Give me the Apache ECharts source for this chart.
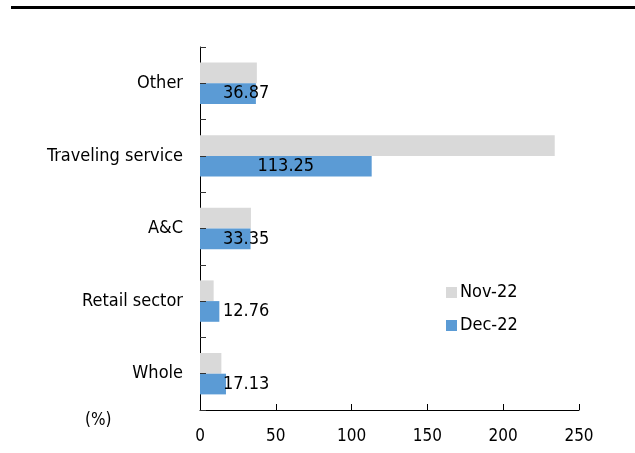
<!DOCTYPE html>
<html>
<head>
<meta charset="utf-8">
<script src="https://cdn.jsdelivr.net/npm/echarts@6/dist/echarts.min.js"></script>
<style>
  html, body { margin: 0; padding: 0; background: #fff; }
  #chart { width: 635px; height: 453px; }
</style>
</head>
<body>
<div id="chart"></div>
<script>
// Categories listed bottom-to-top (ECharts category y axis starts at the bottom)
const categories = ['Whole', 'Retail sector', 'A&C', 'Traveling service', 'Other'];
const nov22 = [14.1, 9.0, 33.6, 234.0, 37.5];
const dec22 = [17.13, 12.76, 33.35, 113.25, 36.87];
const xTicks = [0, 50, 100, 150, 200, 250];
const seriesNames = ['Nov-22', 'Dec-22'];

const FONT = '"DejaVu Sans Condensed", "DejaVu Sans", sans-serif';
const INK = '#000';

const chart = echarts.init(document.getElementById('chart'));

const decData = dec22.map(v => ({
  value: v,
  label: v > 60
    ? { position: 'inside' }
    : { position: [23, '50%'], align: 'left', verticalAlign: 'middle' }
}));

chart.setOption({
  animation: false,
  textStyle: { fontFamily: FONT },
  grid: { left: 200, right: 56, top: 47, bottom: 43, containLabel: false },
  legend: {
    orient: 'vertical',
    left: 441,
    top: 277,
    itemWidth: 11,
    itemHeight: 11,
    itemGap: 12,
    icon: 'rect',
    data: seriesNames,
    textStyle: { fontFamily: FONT, fontSize: 18, color: INK, lineHeight: 21, padding: [0, 0, 0, -2] }
  },
  xAxis: {
    type: 'value',
    min: xTicks[0],
    max: xTicks[xTicks.length - 1],
    interval: 50,
    axisLine: { show: true, lineStyle: { color: INK, width: 1 } },
    axisTick: { show: true, inside: true, length: 6, lineStyle: { color: INK } },
    splitLine: { show: false },
    axisLabel: { fontFamily: FONT, fontSize: 17, color: INK, margin: 18 }
  },
  yAxis: [
    {
      type: 'category',
      data: categories,
      axisLine: { show: true, lineStyle: { color: INK, width: 1 } },
      axisTick: { show: false },
      axisLabel: { fontFamily: FONT, fontSize: 18, color: INK, margin: 17 }
    },
    {
      // ticks at every band boundary and band centre, drawn above the bars
      type: 'value',
      position: 'left',
      z: 5,
      min: 0,
      max: categories.length * 2,
      interval: 1,
      axisLine: { show: false },
      axisTick: { show: true, inside: true, length: 6, lineStyle: { color: '#333' } },
      axisLabel: { show: false },
      splitLine: { show: false }
    }
  ],
  series: [
    {
      name: seriesNames[0],
      type: 'bar',
      yAxisIndex: 0,
      data: nov22,
      itemStyle: { color: '#D9D9D9' },
      barGap: '0%',
      barCategoryGap: '43%'
    },
    {
      name: seriesNames[1],
      type: 'bar',
      yAxisIndex: 0,
      data: decData,
      itemStyle: { color: '#5B9BD5' },
      barGap: '0%',
      barCategoryGap: '43%',
      label: {
        show: true,
        color: INK,
        fontFamily: FONT,
        fontSize: 18,
        formatter: p => p.value.toFixed(2)
      }
    }
  ],
  graphic: [
    {
      type: 'rect',
      shape: { x: 11, y: 6, width: 624, height: 3 },
      style: { fill: '#000' }
    },
    {
      type: 'text',
      x: 85,
      y: 421,
      style: { text: '(%)', font: '17px ' + FONT, fill: INK, textVerticalAlign: 'middle' }
    }
  ]
});
</script>
</body>
</html>
